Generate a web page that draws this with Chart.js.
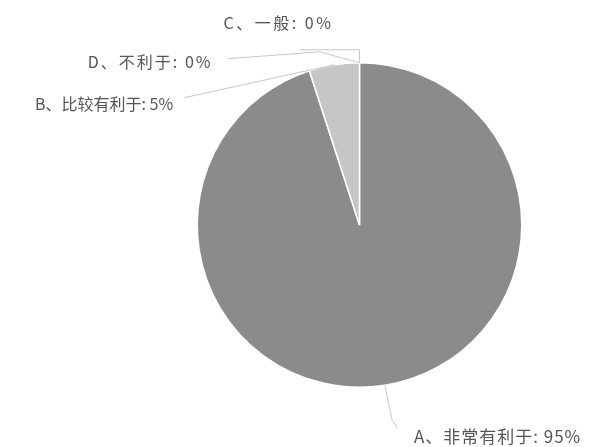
<!DOCTYPE html>
<html>
<head>
<meta charset="utf-8">
<script src="https://cdn.jsdelivr.net/npm/chart.js@4.4.0/dist/chart.umd.min.js"></script>
<style>
html,body{margin:0;padding:0;background:#fff;}
#wrap{width:590px;height:447px;position:relative;}
</style>
</head>
<body>
<div id="wrap"><canvas id="c" width="590" height="447"></canvas></div>
<script>
const categories = ['A、非常有利于', 'B、比较有利于', 'C、一般', 'D、不利于'];
const values = [95, 5, 0, 0];
const colors = ['#8b8b8b', '#c6c6c6', '#b0b0b0', '#a0a0a0'];

// label layout: leader-line path points and text anchor, as offsets from the arc's outer mid point
const labelLayout = [
  {path: [[7, 34], [12, 42]], text: [29, 51], align: 'left', size: 17, spacing: 1},
  {path: [[-150, 33]], text: [-161, 39], align: 'right', size: 16, spacing: 0},
  {path: [[0, -13], [-60, -13]], text: [-81, -40], align: 'center', size: 16, spacing: 2.5},
  {path: [[-40, -11], [-132, -4]], text: [-147, -1], align: 'right', size: 16, spacing: 2}
];

const labelPlugin = {
  id: 'pieLabels',
  afterDatasetsDraw(chart) {
    const ctx = chart.ctx;
    const meta = chart.getDatasetMeta(0);
    ctx.save();
    meta.data.forEach((arc, i) => {
      const p = arc.getProps(['x','y','startAngle','endAngle','outerRadius'], true);
      const mid = (p.startAngle + p.endAngle) / 2;
      const ax = p.x + Math.cos(mid) * p.outerRadius;
      const ay = p.y + Math.sin(mid) * p.outerRadius;
      const L = labelLayout[i];
      ctx.strokeStyle = '#c8c8c8';
      ctx.lineWidth = 1;
      ctx.beginPath();
      ctx.moveTo(ax, ay);
      L.path.forEach(pt => ctx.lineTo(ax + pt[0], ay + pt[1]));
      ctx.stroke();
      ctx.fillStyle = '#555555';
      ctx.font = L.size + 'px "Microsoft YaHei", "Noto Sans CJK SC", sans-serif';
      ctx.letterSpacing = L.spacing + 'px';
      ctx.textAlign = L.align;
      ctx.textBaseline = 'middle';
      ctx.fillText(categories[i] + ': ' + values[i] + '%', ax + L.text[0], ay + L.text[1]);
    });
    ctx.restore();
  }
};

new Chart(document.getElementById('c'), {
  type: 'pie',
  data: {
    labels: categories,
    datasets: [{
      data: values,
      backgroundColor: colors,
      borderColor: '#ffffff',
      borderWidth: 1.5
    }]
  },
  options: {
    responsive: false,
    animation: false,
    layout: {padding: {left: 196.5, right: 67.5, top: 62, bottom: 59}},
    plugins: {legend: {display: false}, tooltip: {enabled: false}}
  },
  plugins: [labelPlugin]
});
</script>
</body>
</html>
